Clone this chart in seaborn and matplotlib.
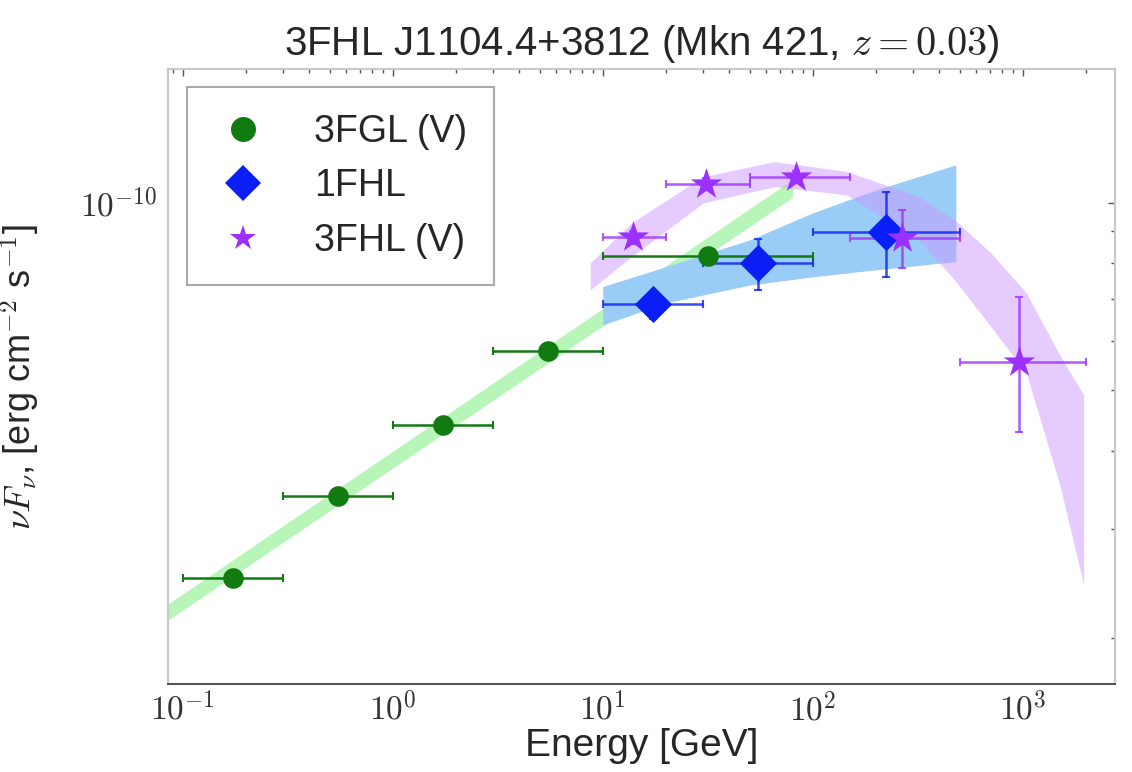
import numpy as np
import pandas as pd
import matplotlib
matplotlib.use("Agg")
import matplotlib.pyplot as plt
import seaborn as sns
from matplotlib.lines import Line2D
from matplotlib.ticker import LogLocator, NullFormatter, FuncFormatter, FixedLocator

# ---------------- data ----------------
# 3FGL band fluxes
fgl_e = [0.173, 0.548, 1.73, 5.48, 31.6]
fgl_elo = [0.1, 0.3, 1.0, 3.0, 10.0]
fgl_ehi = [0.3, 1.0, 3.0, 10.0, 100.0]
fgl_f = [2.50e-11, 3.38e-11, 4.40e-11, 5.79e-11, 8.22e-11]

# 1FHL band fluxes
fhl1_e = [17.3, 54.8, 224.0]
fhl1_elo = [10.0, 30.0, 100.0]
fhl1_ehi = [30.0, 100.0, 500.0]
fhl1_f = [6.88e-11, 8.01e-11, 8.98e-11]
fhl1_flo = [6.50e-11, 7.25e-11, 7.61e-11]
fhl1_fhi = [7.15e-11, 8.75e-11, 1.04e-10]

# 3FHL band fluxes
fhl3_e = [14.0, 31.0, 83.0, 265.0, 960.0]
fhl3_elo = [10.0, 20.0, 50.0, 150.0, 500.0]
fhl3_ehi = [20.0, 50.0, 150.0, 500.0, 2000.0]
fhl3_f = [8.81e-11, 1.073e-10, 1.102e-10, 8.79e-11, 5.56e-11]
fhl3_flo = [8.60e-11, 1.050e-10, 1.080e-10, 7.86e-11, 4.29e-11]
fhl3_fhi = [9.00e-11, 1.095e-10, 1.125e-10, 9.75e-11, 7.07e-11]

# model bands (edges)
green_e = [0.08, 80.0]
green_lo = [2.11e-11, 1.02e-10]
green_hi = [2.24e-11, 1.09e-10]

blue_e = [10.0, 20.0, 50.0, 100.0, 200.0, 480.0]
blue_lo = [6.37e-11, 6.91e-11, 7.38e-11, 7.61e-11, 7.81e-11, 8.05e-11]
blue_hi = [7.34e-11, 7.90e-11, 8.72e-11, 9.64e-11, 1.049e-10, 1.151e-10]

purple_e = [8.72, 13.7, 30.1, 65.9, 145.0, 320.0, 474.0, 705.0, 1040.0, 1500.0, 1950.0]
purple_lo = [7.25e-11, 8.20e-11, 1.00e-10, 1.062e-10, 1.030e-10, 8.72e-11, 7.52e-11,
             6.33e-11, 5.33e-11, 3.53e-11, 2.44e-11]
purple_hi = [8.01e-11, 9.29e-11, 1.102e-10, 1.165e-10, 1.123e-10, 1.024e-10, 9.39e-11,
             8.31e-11, 7.17e-11, 5.70e-11, 4.92e-11]

x_major = [0.1, 1.0, 10.0, 100.0, 1000.0]
y_major = [1e-10]

labels = ["3FGL (V)", "1FHL", "3FHL (V)"]

# ---------------- style ----------------
sns.set_style("white")
plt.rcParams["font.family"] = ["Liberation Sans", "DejaVu Sans"]
plt.rcParams["mathtext.fontset"] = "cm"

fig = plt.figure(figsize=(11.32, 7.72), dpi=100)
ax = fig.add_axes([0.1484, 0.114, 0.8366, 0.7966])

c_green = "#117a11"
c_blue = "#0a1ef5"
c_purple = "#9b30ff"

# bands
ax.fill_between(green_e, green_lo, green_hi, color="#b8f5b8", lw=0, zorder=1)
ax.fill_between(blue_e, blue_lo, blue_hi, color="#99ccf7", lw=0, zorder=1)
ax.fill_between(purple_e, purple_lo, purple_hi, color="#cc99ff", alpha=0.5, lw=0, zorder=2)

# error bars
def ebars(e, elo, ehi, f, flo, fhi, color, alpha=1.0):
    e = np.array(e); f = np.array(f)
    xerr = [e - np.array(elo), np.array(ehi) - e]
    yerr = None
    if flo is not None:
        yerr = [f - np.array(flo), np.array(fhi) - f]
    ax.errorbar(e, f, xerr=xerr, yerr=yerr, fmt="none", ecolor=color, elinewidth=1.8,
                capsize=3, capthick=1.5, alpha=alpha, zorder=3)

ebars(fgl_e, fgl_elo, fgl_ehi, fgl_f, None, None, c_green)
ebars(fhl1_e, fhl1_elo, fhl1_ehi, fhl1_f, fhl1_flo, fhl1_fhi, c_blue, 0.8)
ebars(fhl3_e, fhl3_elo, fhl3_ehi, fhl3_f, fhl3_flo, fhl3_fhi, c_purple, 0.8)

# markers via seaborn
df = pd.concat([
    pd.DataFrame({"E": fgl_e, "F": fgl_f, "cat": labels[0]}),
    pd.DataFrame({"E": fhl1_e, "F": fhl1_f, "cat": labels[1]}),
    pd.DataFrame({"E": fhl3_e, "F": fhl3_f, "cat": labels[2]}),
])
sizes = {labels[0]: 220, labels[1]: 360, labels[2]: 560}
markers = {labels[0]: "o", labels[1]: "D", labels[2]: "*"}
palette = {labels[0]: c_green, labels[1]: c_blue, labels[2]: c_purple}
for lab in labels:
    sub = df[df["cat"] == lab]
    sns.scatterplot(data=sub, x="E", y="F", ax=ax, color=palette[lab], marker=markers[lab],
                    s=sizes[lab], linewidth=0, zorder=4, legend=False)

ax.set_xscale("log")
ax.set_yscale("log")
ax.set_xlim(0.085, 2750)
ax.set_ylim(1.69e-11, 1.64e-10)

fmt = FuncFormatter(lambda v, p: r"$10^{%d}$" % int(round(np.log10(v))))
for axis, major in ((ax.xaxis, x_major), (ax.yaxis, y_major)):
    axis.set_major_locator(FixedLocator(major))
    axis.set_minor_locator(LogLocator(base=10, subs=np.arange(2, 10)))
    axis.set_minor_formatter(NullFormatter())
    axis.set_major_formatter(fmt)
ax.tick_params(which="both", direction="in", top=True, right=True, color="#555555",
               width=1, labelsize=24, labelcolor="#333333")
ax.tick_params(which="major", length=5)
ax.tick_params(which="minor", length=3)
ax.tick_params(axis="x", pad=6)
ax.tick_params(axis="y", pad=8)

for side in ["top", "right", "left"]:
    ax.spines[side].set_color("#c8c8c8")
    ax.spines[side].set_linewidth(1.5)
ax.spines["bottom"].set_color("#555555")
ax.spines["bottom"].set_linewidth(1.5)

ax.set_xlabel("Energy [GeV]", fontsize=28, labelpad=0)
ax.set_ylabel(r"$\nu F_\nu$, [erg cm$^{-2}$ s$^{-1}$]", fontsize=26)
ax.yaxis.set_label_coords(-0.133, 0.5)
ax.set_title(r"3FHL J1104.4+3812 (Mkn 421, $z=0.03$)", fontsize=29, pad=10)

handles = [Line2D([], [], ls="none", marker=markers[l], color=palette[l],
                  markersize=ms, markeredgewidth=0)
           for l, ms in zip(labels, [18, 18, 19])]
leg = ax.legend(handles, labels, loc="upper left", bbox_to_anchor=(0.02, 0.97),
                borderaxespad=0, fontsize=27, frameon=True, fancybox=False,
                framealpha=1, edgecolor="#aaaaaa", handlelength=1.6,
                handletextpad=1.1, borderpad=0.7, labelspacing=0.5)
leg.get_frame().set_linewidth(1.5)

fig.savefig("out.png", dpi=100)
